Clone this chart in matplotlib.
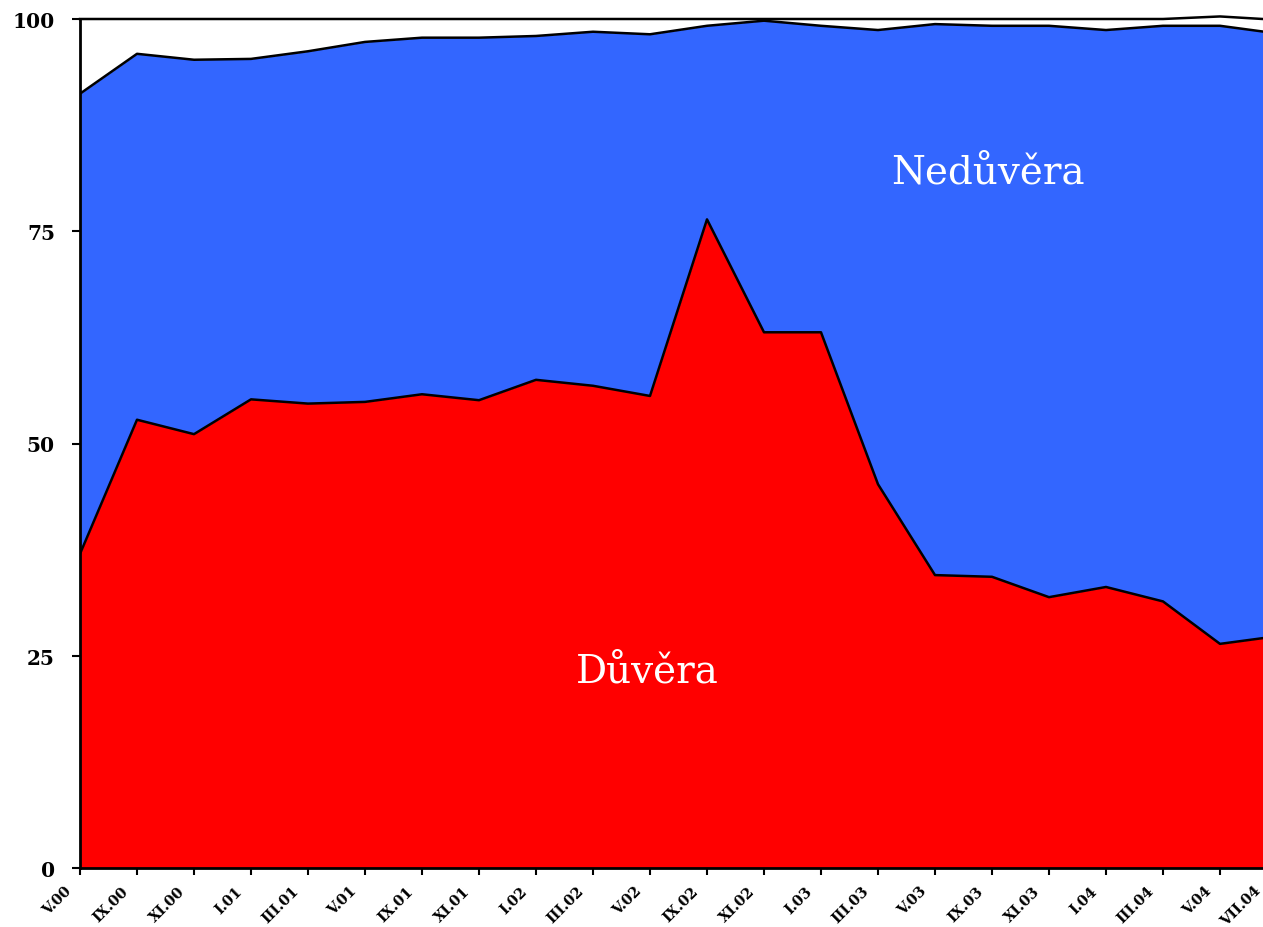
import numpy as np
import matplotlib
matplotlib.use("Agg")
import matplotlib.pyplot as plt
from matplotlib.transforms import ScaledTranslation

# survey months
months = ["V.00", "IX.00", "XI.00", "I.01", "III.01", "V.01", "IX.01", "XI.01",
          "I.02", "III.02", "V.02", "IX.02", "XI.02", "I.03", "III.03", "V.03",
          "IX.03", "XI.03", "I.04", "III.04", "V.04", "VII.04"]

# share of respondents (%)
duvera = [37.0, 52.8, 51.1, 55.2, 54.7, 54.9, 55.8, 55.1, 57.5, 56.8, 55.6,
          76.4, 63.1, 63.1, 45.2, 34.5, 34.3, 31.9, 33.1, 31.4, 26.4, 27.3]
neduvera = [54.2, 43.1, 44.1, 40.1, 41.5, 42.4, 42.0, 42.7, 40.5, 41.7, 42.6,
            22.8, 36.7, 36.1, 53.5, 64.9, 64.9, 67.3, 65.6, 67.8, 72.8, 71.0]
nevi = [8.8, 4.1, 4.8, 4.7, 3.8, 2.7, 2.2, 2.2, 2.0, 1.5, 1.8,
        0.8, 0.2, 0.8, 1.3, 0.6, 0.8, 0.8, 1.3, 0.8, 1.1, 1.6]

x = np.arange(len(months))
d = np.array(duvera)
n = d + np.array(neduvera)
t = n + np.array(nevi)

fig = plt.figure(figsize=(12.63, 9.28), dpi=100)
ax = fig.add_axes([80 / 1263, 59 / 928, 1197 / 1263, 849 / 928])

ax.fill_between(x, 0, d, color="#ff0000", lw=0)
ax.fill_between(x, d, n, color="#3366ff", lw=0)
ax.fill_between(x, n, t, color="white", lw=0, clip_on=False)
ax.plot(x, d, color="black", lw=1.8)
ax.plot(x, n, color="black", lw=1.8)
ax.plot(x, t, color="black", lw=1.8, clip_on=False)

ax.set_xlim(0, len(months) - 1)
ax.set_ylim(0, 100)

for s in ["top", "right"]:
    ax.spines[s].set_visible(False)
ax.spines["left"].set_linewidth(2)
ax.spines["bottom"].set_linewidth(2)

ax.set_yticks([0, 25, 50, 75, 100])
ax.set_xticks(x)
ax.set_xticklabels(months, rotation=45, ha="right", rotation_mode="anchor",
                   fontsize=10.5, fontweight="bold", family="DejaVu Serif")
for lab in ax.get_yticklabels():
    lab.set_fontfamily("DejaVu Serif")
    lab.set_fontweight("bold")
    lab.set_fontsize(14.5)
ax.tick_params(axis="y", length=6, width=1.5, pad=12)
ax.tick_params(axis="x", length=5, width=1.5, pad=6)

# nudge the slanted month labels left of their ticks
xlabels = ax.get_xticklabels()
for i, lab in enumerate(xlabels):
    dx = -0.16 if i < len(xlabels) - 1 else -0.23
    lab.set_transform(lab.get_transform() + ScaledTranslation(dx, 0, fig.dpi_scale_trans))

ax.text(9.95, 23.2, "Důvěra", color="white", fontsize=28,
        family="DejaVu Serif", ha="center", va="center")
ax.text(15.93, 82.0, "Nedůvěra", color="white", fontsize=28,
        family="DejaVu Serif", ha="center", va="center")

fig.savefig("out.png", dpi=100)
